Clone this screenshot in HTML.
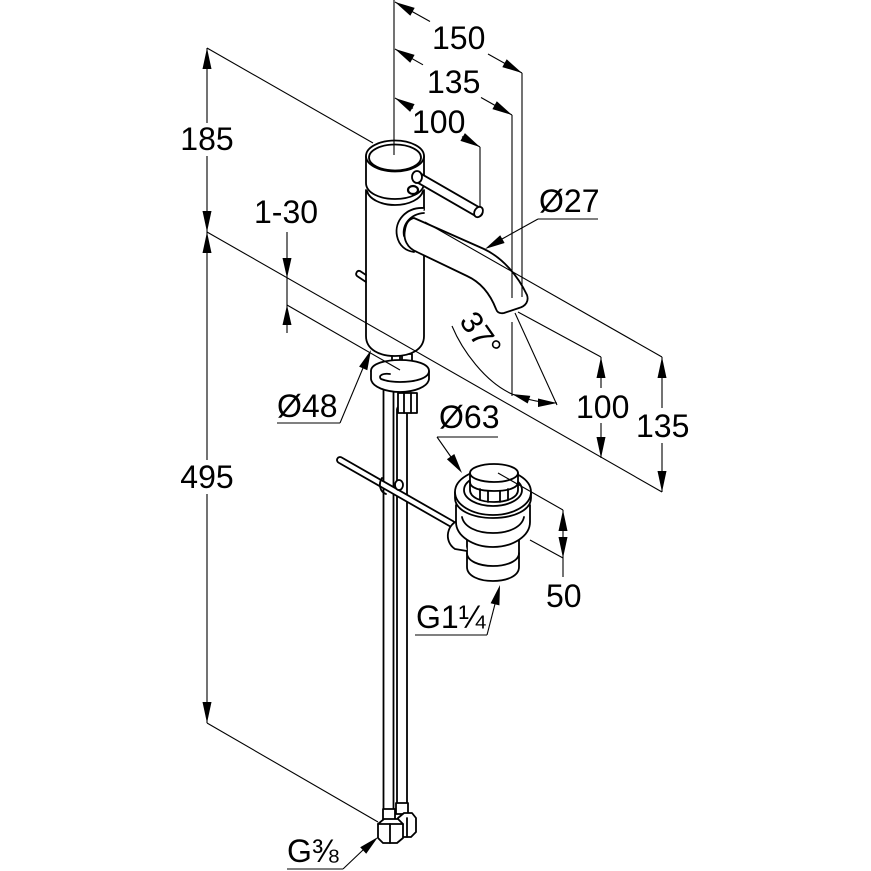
<!DOCTYPE html>
<html>
<head>
<meta charset="utf-8">
<style>
html,body{margin:0;padding:0;background:#fff;}
svg{display:block;}
text{font-family:"Liberation Sans",Arial,sans-serif;font-size:32px;fill:#000;}
</style>
</head>
<body>
<svg width="871" height="871" viewBox="0 0 871 871" xmlns="http://www.w3.org/2000/svg">
<rect width="871" height="871" fill="#fff"/>

<!-- ============ FAUCET OBJECT ============ -->
<g fill="none" stroke="#000" stroke-width="1.8" stroke-linejoin="round" stroke-linecap="round">
  <!-- supply tubes -->
  <line x1="388.5" y1="388" x2="388.5" y2="811" stroke-width="11.8"/>
  <line x1="388.5" y1="388" x2="388.5" y2="811" stroke="#fff" stroke-width="8.2"/>
  <line x1="402" y1="410" x2="402" y2="804" stroke-width="11.8"/>
  <line x1="402" y1="410" x2="402" y2="804" stroke="#fff" stroke-width="8.2"/>

  <!-- bottom fittings -->
  <path d="M396,803 L408,803 L408,814 L396,814 Z" fill="#fff"/>
  <path d="M398,818 L404,813 L412,813 L416,818 L416,832 L411,837 L403,837 L398,832 Z" fill="#fff"/>
  <line x1="407" y1="818" x2="407" y2="837"/>
  <path d="M383,809 L395,809 L395,820 L383,820 Z" fill="#fff"/>
  <path d="M378,824 L384,819 L398,819 L403,824 L403,838 L397,843 L383,843 L378,838 Z" fill="#fff"/>
  <line x1="390" y1="824" x2="390" y2="843"/>
  <line x1="378" y1="824" x2="403" y2="824"/>

  <!-- pop-up rod -->
  <line x1="340" y1="460" x2="452" y2="524" stroke-width="7.8"/>
  <line x1="340" y1="460" x2="452" y2="524" stroke="#fff" stroke-width="4.2"/>
  <!-- clamp on tube -->
  <path d="M382,478 C378,484 380,492 386,494" />
  <ellipse cx="399" cy="485" rx="4" ry="5" fill="#fff"/>

  <!-- base: stems -->
  <rect x="392" y="354" width="8" height="22" fill="#fff"/>
  <rect x="402" y="354" width="10" height="24" fill="#fff"/>
  <!-- base plate (C shape) -->
  <path d="M371,371 L371,379 C372,387 386,392 400,392 C414,392 428,387 429,379 L429,371" fill="#fff"/>
  <path d="M371,371 C371,364 384,360 400,360 C416,360 429,364 429,371 C429,378 416,382 400,382 C393,382 386,381 381,379 C378,376 382,373 390,374" fill="#fff"/>
  <!-- nut -->
  <path d="M398,393 L417,393 L417,413 L398,413 Z" fill="#fff"/>
  <line x1="404" y1="393" x2="404" y2="413"/>
  <line x1="411" y1="393" x2="411" y2="413"/>

  <!-- body -->
  <path d="M366,190 L366,336 C366,350 380,356 395,356 C410,356 424,350 424,336 L424,250" fill="#fff"/>
  <line x1="424" y1="190" x2="424" y2="210"/>
  <path d="M367,191 C369,199 381,205 395,205 C409,205 421,199 423,191"/>
  <!-- small knob left -->
  <path d="M366,275 L360,271 C357,270 355,274 357,276 L366,282"/>

  <!-- cap -->
  <path d="M366,156 L366,183 C366,193 380,199 395,199 C410,199 424,193 424,183 L424,156" fill="#fff"/>
  <ellipse cx="395" cy="156" rx="29" ry="15.5" fill="#fff"/>
  <ellipse cx="395" cy="157.5" rx="26" ry="13"/>
  <!-- hole below lever -->
  <ellipse cx="413" cy="190" rx="5" ry="4" stroke-width="2.2"/>

  <!-- lever -->
  <line x1="419" y1="178" x2="478" y2="212" stroke-width="11.2"/>
  <line x1="419" y1="178" x2="478" y2="212" stroke="#fff" stroke-width="7.6"/>
  <ellipse cx="417" cy="177" rx="5" ry="6" fill="#fff"/>
  <ellipse cx="478.5" cy="212" rx="4" ry="5.5" transform="rotate(30 478.5 212)" fill="#fff"/>

  <!-- spout collar -->
  <path d="M424,208 C406,207 394,221 397,236 C399,246 406,251 414,252" fill="#fff"/>
  <path d="M424,213 C410,214 402,225 404,236"/>
  <!-- spout -->
  <path d="M414,218 L484,249 C503,258 518,276 527,295 C529,301 526,306 519,308 L504,313 C499,314 497,312 496,309 C489,291 478,281 467,276 L417,252 C407,248 403,239 405,230 C406,223 409,219 414,218 Z" fill="#fff"/>

  <!-- drain tailpiece -->
  <path d="M467,535 L467,567 C467,576 479,581 493,581 C507,581 519,576 519,567 L519,535" fill="#fff"/>
  <path d="M467,553 C467,561 479,566 493,566 C507,566 519,561 519,553"/>
  <!-- drain clamp -->
  <path d="M460,520 C447,523 443,541 455,549 L467,551" fill="#fff"/>
  <!-- drain ring -->
  <path d="M456,505 L456,522 C456,536 473,547 493,547 C513,547 530,536 530,522 L530,505" fill="#fff"/>
  <path d="M462,517 C464,527 477,533 493,533 C509,533 522,527 524,517"/>
  <!-- flange -->
  <path d="M455,492 L455,498 C455,510 472,518 493,518 C514,518 531,510 531,498 L531,492" fill="#fff"/>
  <ellipse cx="493" cy="492" rx="38" ry="23" fill="#fff"/>
  <ellipse cx="493" cy="490" rx="29" ry="16"/>
  <!-- pop-up cap -->
  <path d="M470,473 L470,490 C470,497 480,502 494,502 C508,502 518,497 518,490 L518,473" fill="#fff"/>
  <path d="M470,482 C470,488 480,491 494,491 C508,491 518,488 518,482"/>
  <line x1="480" y1="489" x2="480" y2="500"/>
  <line x1="488" y1="491" x2="488" y2="502"/>
  <line x1="500" y1="491" x2="500" y2="502"/>
  <line x1="508" y1="489" x2="508" y2="500"/>
  <ellipse cx="494" cy="473" rx="24" ry="9" fill="#fff"/>
</g>

<!-- ============ DIMENSION LINES ============ -->
<g fill="none" stroke="#000" stroke-width="1.1">
  <!-- left 185 / 495 -->
  <line x1="207" y1="48" x2="207" y2="123"/>
  <line x1="207" y1="156" x2="207" y2="460"/>
  <line x1="207" y1="494" x2="207" y2="723"/>
  <line x1="207" y1="48" x2="373" y2="143"/>
  <line x1="207" y1="232" x2="662" y2="492"/>
  <line x1="207" y1="723" x2="378" y2="822"/>
  <!-- 1-30 -->
  <line x1="287" y1="232" x2="287" y2="333"/>
  <line x1="287" y1="305" x2="400" y2="370"/>
  <!-- center line -->
  <line x1="394" y1="0" x2="394" y2="155"/>
  <!-- 150 -->
  <line x1="395" y1="2" x2="430" y2="21.5"/>
  <line x1="488" y1="54" x2="522" y2="73"/>
  <line x1="522" y1="73" x2="522" y2="297"/>
  <!-- 135 -->
  <line x1="395" y1="49" x2="423" y2="64.8"/>
  <line x1="481" y1="97.5" x2="512" y2="115"/>
  <line x1="512" y1="115" x2="512" y2="298"/>
  <!-- 100 -->
  <line x1="395" y1="98" x2="413" y2="108.4"/>
  <line x1="462" y1="136.6" x2="480" y2="147"/>
  <line x1="480" y1="147" x2="480" y2="207"/>
  <!-- 37 deg -->
  <line x1="512" y1="322" x2="512" y2="396"/>
  <line x1="515" y1="313" x2="557" y2="405"/>
  <path d="M452,326 C462,350 485,382 512,394"/>
  <path d="M512,394 Q535,403 557,403"/>
  <!-- right extension lines -->
  <line x1="518" y1="312" x2="601" y2="357"/>
  <line x1="425" y1="222" x2="662" y2="357"/>
  <!-- right 100 -->
  <line x1="601" y1="357" x2="601" y2="388"/>
  <line x1="601" y1="423" x2="601" y2="458"/>
  <!-- right 135 -->
  <line x1="662" y1="357" x2="662" y2="408"/>
  <line x1="662" y1="443" x2="662" y2="492"/>
  <!-- 50 -->
  <line x1="498" y1="473" x2="563" y2="510"/>
  <line x1="530" y1="540" x2="563" y2="558"/>
  <line x1="563" y1="510" x2="563" y2="577"/>
  <!-- leaders -->
  <line x1="538" y1="219" x2="598" y2="219"/>
  <line x1="538" y1="219" x2="502" y2="239"/>
  <line x1="277" y1="423" x2="340" y2="423"/>
  <line x1="340" y1="423" x2="363" y2="368"/>
  <line x1="437" y1="437" x2="498" y2="437"/>
  <line x1="437" y1="437" x2="451" y2="457"/>
  <line x1="415" y1="635" x2="487" y2="635"/>
  <line x1="487" y1="635" x2="495" y2="604"/>
  <line x1="287" y1="869" x2="343" y2="869"/>
  <line x1="343" y1="869" x2="363" y2="850"/>
</g>

<!-- ============ ARROWHEADS ============ -->
<g fill="#000" stroke="none">
  <polygon points="207,48 202.5,69 211.5,69"/>
  <polygon points="207,232 202.5,211 211.5,211"/>
  <polygon points="207,232 202.5,253 211.5,253"/>
  <polygon points="207,723 202.5,702 211.5,702"/>
  <polygon points="287,278 282.5,258 291.5,258"/>
  <polygon points="287,305 282.5,325 291.5,325"/>
  <polygon points="395,2 414.7,7.9 410.3,15.7"/>
  <polygon points="522,73 506.7,59.3 502.3,67.1"/>
  <polygon points="395,49 414.6,54.9 410.2,62.7"/>
  <polygon points="512,115 496.8,101.3 492.4,109.1"/>
  <polygon points="395,98 414.6,104.1 410.1,111.9"/>
  <polygon points="480,147 464.9,133.1 460.4,140.9"/>
  <polygon points="601,357 596.5,378 605.5,378"/>
  <polygon points="601,458 596.5,437 605.5,437"/>
  <polygon points="662,357 657.5,378 666.5,378"/>
  <polygon points="662,492 657.5,471 666.5,471"/>
  <polygon points="563,510 558.5,531 567.5,531"/>
  <polygon points="563,558 558.5,537 567.5,537"/>
  <polygon points="485,249 504.6,243 500.2,235.2"/>
  <polygon points="371,350 367.3,370.2 359.1,366.6"/>
  <polygon points="462,473 454.3,454 446.9,459.2"/>
  <polygon points="500,585 499.4,605.4 490.6,603.2"/>
  <polygon points="378,837 366.2,853.8 360.2,847.2"/>
  <polygon points="512,394 530.3,395.9 527.7,403.5"/>
  <polygon points="557,403 538,398.5 538,407"/>
</g>

<!-- ============ LABELS ============ -->
<text x="432" y="49">150</text>
<text x="427" y="93">135</text>
<text x="412" y="133">100</text>
<text x="207" y="150" text-anchor="middle">185</text>
<text x="254" y="223">1-30</text>
<text x="207" y="488" text-anchor="middle">495</text>
<text x="277" y="417">Ø48</text>
<text x="539" y="212">Ø27</text>
<text x="439" y="428">Ø63</text>
<text x="576" y="418">100</text>
<text x="636" y="437">135</text>
<text x="546" y="607">50</text>
<text x="416" y="628">G1¼</text>
<text x="287" y="862">G⅜</text>
<text transform="translate(481,334) rotate(55)" x="0" y="11" text-anchor="middle" style="font-size:31px">37°</text>
</svg>
</body>
</html>
